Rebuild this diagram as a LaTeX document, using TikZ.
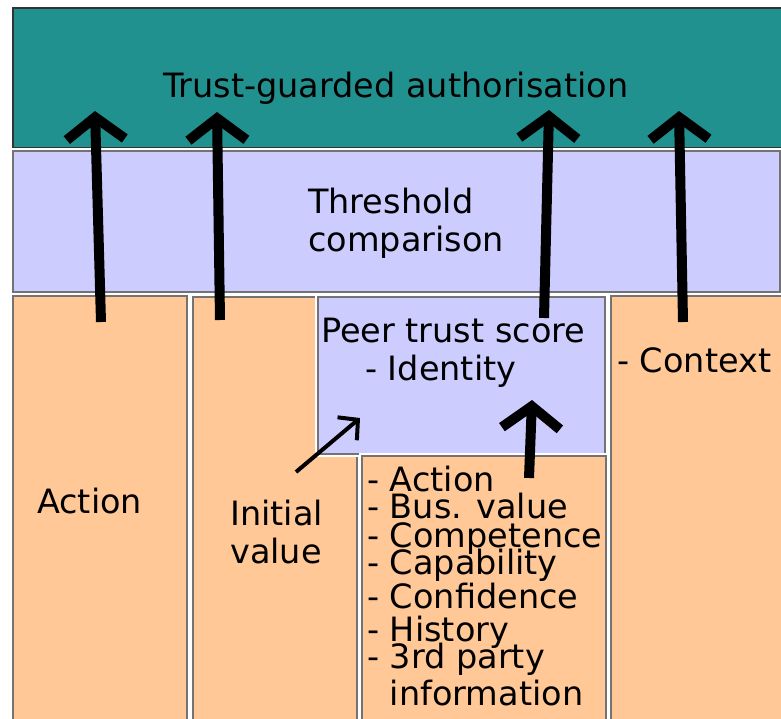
\documentclass[tikz,border=0pt]{standalone}
\usepackage{fontspec}
\setmainfont{DejaVu Sans}
\usetikzlibrary{arrows.meta}

% always use \baselineskip between lines, never the lineskip fallback
\lineskiplimit=-100pt

\definecolor{authteal}{HTML}{21918F}
\definecolor{lilac}{HTML}{CCCCFF}
\definecolor{peach}{HTML}{FFC896}

\tikzset{
  layer/.style={draw=black!55, line width=1.3pt, preaction={draw=white, line width=6pt}},
  lbl/.style={inner sep=0pt, anchor=base west, align=left, font=\fontsize{33.5}{38}\selectfont},
  flow/.style={line width=10pt, -{Straight Barb[length=22pt, width=58pt]}},
  thinflow/.style={line width=4pt, -{Straight Barb[length=14pt, width=30pt]}},
}

\begin{document}
\begin{tikzpicture}[x=1pt, y=-1pt]
  \useasboundingbox (0,0) rectangle (781,718);
  \clip (0,0) rectangle (781,718);

  % layers, top to bottom
  \draw[layer, fill=authteal, draw=black!80] (13,8) rectangle (800,148);
  \draw[layer, fill=lilac] (13,151) rectangle (780,292);

  % inputs
  \draw[layer, fill=peach] (13,296) rectangle (187,740);
  \draw[layer, fill=peach] (193,297) rectangle (357,740);
  \draw[layer, fill=lilac] (318,297) rectangle (605,454);
  \draw[layer, fill=peach] (362,456) rectangle (606,740);
  \draw[layer, fill=peach] (611,296) rectangle (800,740);

  % labels (multi-line ones sit on their last baseline)
  \node[lbl] (auth) at (163,97) {Trust-guarded authorisation};
  \node[lbl] (thresh) at (308,251) {Threshold\\comparison};
  \node[lbl] (peer) at (321,380) {Peer trust score\\\hspace{44pt}- Identity};
  \node[lbl] (action) at (37,513) {Action};
  \node[lbl] (initial) at (230,563) {Initial\\value};
  \node[lbl] (context) at (617,372) {- Context};
  \node[lbl, font=\fontsize{33.5}{30}\selectfont] (factors) at (367,705)
    {- Action\\[-3pt]
     - Bus. value\\[-1pt]
     - Competence\\[-3pt]
     - Capability\\[4pt]
     - Confidence\\[3pt]
     - History\\[-3pt]
     - 3rd party\\[7pt]
     \hphantom{- }information};

  % arrow end points
  \coordinate (act-from) at (101,322);
  \coordinate (act-to) at (95,111);
  \coordinate (init-from) at (220,320);
  \coordinate (init-to) at (217,112);
  \coordinate (peer-from) at (544,318);
  \coordinate (peer-to) at (549,110);
  \coordinate (ctx-from) at (683,322);
  \coordinate (ctx-to) at (679,111);
  \coordinate (seed-from) at (296,472);
  \coordinate (seed-to) at (360,418);
  \coordinate (hist-from) at (529,478);
  \coordinate (hist-to) at (532,400);

  % arrows
  \draw[flow] (act-from) -- (act-to);
  \draw[flow] (init-from) -- (init-to);
  \draw[flow] (peer-from) -- (peer-to);
  \draw[flow] (ctx-from) -- (ctx-to);
  \draw[thinflow] (seed-from) -- (seed-to);
  \draw[flow] (hist-from) -- (hist-to);
\end{tikzpicture}
\end{document}
